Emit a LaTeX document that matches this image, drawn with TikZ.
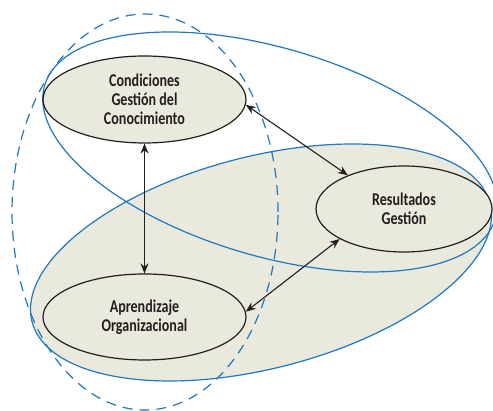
\documentclass[tikz,border=0pt]{standalone}
\usepackage{fontspec}
\setmainfont{Carlito}[FakeStretch=0.78]
\usetikzlibrary{arrows.meta,shapes.geometric}
\definecolor{lineblue}{RGB}{31,120,193}
\definecolor{shade}{RGB}{234,233,221}
\definecolor{ink}{RGB}{35,31,32}
\tikzset{
  blueline/.style={draw=lineblue,line width=1.2pt},
  concept/.style={ellipse,draw=ink,fill=shade,line width=1.2pt,inner sep=0pt,
    align=center,text=ink,font=\bfseries\fontsize{18}{19}\selectfont},
  link/.style={draw=ink,line width=1.1pt,{Stealth[length=10pt,width=8pt]}-{Stealth[length=10pt,width=8pt]}}
}
\begin{document}
\begin{tikzpicture}[x=1pt,y=1pt]
\useasboundingbox (0,0) rectangle (493,411);
\clip (0,0) rectangle (493,411);
% shaded tilted ellipse
\draw[blueline,fill=shade] (261,148.5) ellipse[x radius=236.5,y radius=106,rotate=14.5];
% outline tilted ellipse
\draw[blueline] (270,259) ellipse[x radius=235,y radius=104,rotate=-16.5];
% dashed ellipse
\draw[blueline,dash pattern=on 10pt off 7pt] (145,199) ellipse[x radius=133,y radius=198];
% concepts
\node[concept,minimum width=203pt,minimum height=87pt] (cond) at (144.5,311.5) {Condiciones\\Gestión del\\Conocimiento};
\node[concept,minimum width=176pt,minimum height=86pt] (res) at (404,202) {Resultados\\Gestión};
\node[concept,minimum width=203pt,minimum height=86pt] (apr) at (144.5,94) {Aprendizaje\\Organizacional};
% links
\draw[link] (cond.south) -- (apr.north);
\draw[link] (cond.-3) -- (res.149);
\draw[link] (apr.3) -- (res.205);
\end{tikzpicture}
\end{document}
